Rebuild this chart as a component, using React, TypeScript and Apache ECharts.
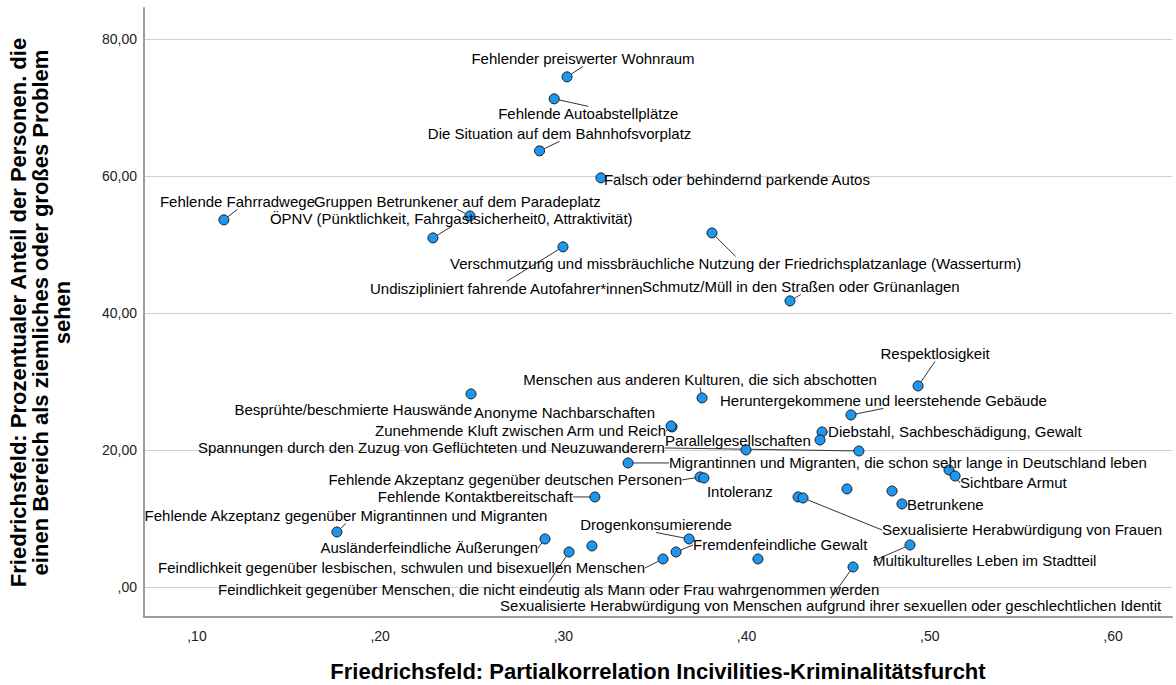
import React, { useEffect, useRef } from 'react';
import * as echarts from 'echarts';

const X_TICKS = [0.1, 0.2, 0.3, 0.4, 0.5, 0.6];
const Y_TICKS = [0, 20, 40, 60, 80];

const X_TITLE = 'Friedrichsfeld: Partialkorrelation Incivilities-Kriminalitätsfurcht';
const Y_TITLE =
  'Friedrichsfeld: Prozentualer Anteil der Personen. die\neinen Bereich als ziemliches oder großes Problem\nsehen';

const ITEM_NAMES = [
  'Fehlender preiswerter Wohnraum',
  'Fehlende Autoabstellplätze',
  'Die Situation auf dem Bahnhofsvorplatz',
  'Falsch oder behindernd parkende Autos',
  'Fehlende Fahrradwege',
  'Gruppen Betrunkener auf dem Paradeplatz',
  'ÖPNV (Pünktlichkeit, Fahrgastsicherheit0, Attraktivität)',
  'Verschmutzung und missbräuchliche Nutzung der Friedrichsplatzanlage (Wasserturm)',
  'Undiszipliniert fahrende Autofahrer*innen',
  'Schmutz/Müll in den Straßen oder Grünanlagen',
  'Besprühte/beschmierte Hauswände',
  'Menschen aus anderen Kulturen, die sich abschotten',
  'Respektlosigkeit',
  'Heruntergekommene und leerstehende Gebäude',
  'Zunehmende Kluft zwischen Arm und Reich',
  'Anonyme Nachbarschaften',
  'Diebstahl, Sachbeschädigung, Gewalt',
  '',
  'Parallelgesellschaften',
  'Spannungen durch den Zuzug von Geflüchteten und Neuzuwanderern',
  'Migrantinnen und Migranten, die schon sehr lange in Deutschland leben',
  '',
  'Sichtbare Armut',
  'Fehlende Akzeptanz gegenüber deutschen Personen',
  'Intoleranz',
  '',
  '',
  '',
  'Sexualisierte Herabwürdigung von Frauen',
  'Betrunkene',
  'Fehlende Kontaktbereitschaft',
  'Fehlende Akzeptanz gegenüber Migrantinnen und Migranten',
  'Ausländerfeindliche Äußerungen',
  'Feindlichkeit gegenüber Menschen, die nicht eindeutig als Mann oder Frau wahrgenommen werden',
  '',
  'Drogenkonsumierende',
  'Feindlichkeit gegenüber lesbischen, schwulen und bisexuellen Menschen',
  'Fremdenfeindliche Gewalt',
  '',
  'Multikulturelles Leben im Stadtteil',
  'Sexualisierte Herabwürdigung von Menschen aufgrund ihrer sexuellen oder geschlechtlichen Identit',
];

const X_VALUES = [
  0.302, 0.295, 0.287, 0.3205, 0.1147, 0.249, 0.2288, 0.3811, 0.2998, 0.4237,
  0.2496, 0.3757, 0.4936, 0.457, 0.3593, 0.3588, 0.4412, 0.4401, 0.3997, 0.4613,
  0.3353, 0.5105, 0.5138, 0.3746, 0.3767, 0.4548, 0.4794, 0.4281, 0.4308, 0.4848,
  0.3172, 0.1764, 0.29, 0.3031, 0.3156, 0.3686, 0.3544, 0.3615, 0.4062, 0.4892,
  0.4581,
];

const Y_VALUES = [
  74.45, 71.24, 63.65, 59.71, 53.58, 54.16, 50.95, 51.68, 49.64, 41.75,
  28.18, 27.59, 29.34, 25.11, 23.36, 23.5, 22.63, 21.46, 20.0, 19.85,
  18.1, 17.08, 16.2, 16.06, 15.91, 14.31, 14.01, 13.14, 12.99, 12.12,
  13.14, 8.03, 7.01, 5.11, 5.99, 7.01, 4.09, 5.11, 4.09, 6.13,
  2.92,
];

// label placement (layout only): [align, dx, dy, show leader line]
type Placement = [string, number, number, boolean] | null;
const LABEL_PLACEMENT: Placement[] = [
  ['center', 16, -18, true],
  ['center', 34, 15, true],
  ['center', 20, -17, true],
  ['left', 3, 2, true],
  ['left', -64, -18, true],
  ['left', -156, -14, true],
  ['left', -163, -19, true],
  ['left', -262, 31, true],
  ['left', -193, 42, true],
  ['left', -148, -14, true],
  ['right', 1, 16, false],
  ['center', -2, -18, true],
  ['center', 17, -32, true],
  ['left', -131, -14, true],
  ['right', -6, 4, true],
  ['left', -197, -13, false],
  ['left', 6, 0, true],
  null,
  ['left', -81, -9, false],
  ['right', -194, -3, true],
  ['left', 41, 0, true],
  null,
  ['left', 5, 7, true],
  ['right', -18, 3, true],
  ['center', 36, 14, false],
  null,
  null,
  null,
  ['left', 79, 32, true],
  ['left', 5, 1, true],
  ['right', -22, 0, true],
  ['center', 9, -16, true],
  ['right', -7, 9, true],
  ['left', -351, 38, true],
  null,
  ['center', -33, -14, true],
  ['left', -505, 9, true],
  ['left', 17, -7, true],
  null,
  ['left', -37, 16, true],
  ['left', -353, 39, true],
];

const FONT = '"Liberation Sans", Arial, sans-serif';

function fmtX(v: number) {
  return ',' + String(Math.round(v * 100)).padStart(2, '0');
}
function fmtY(v: number) {
  if (Math.abs(v) < 1e-9) return ',00';
  return v.toFixed(2).replace('.', ',');
}

export default function App() {
  const ref = useRef<HTMLDivElement>(null);

  useEffect(() => {
    if (!ref.current) return;
    const chart = echarts.init(ref.current, undefined, { renderer: 'svg' });

    const data = ITEM_NAMES.map((name, i) => {
      const p = LABEL_PLACEMENT[i];
      return {
        name,
        value: [X_VALUES[i], Y_VALUES[i]],
        label: { show: !!p },
        labelLine: { show: !!(p && p[3]) },
      };
    });

    chart.setOption({
      animation: false,
      backgroundColor: '#ffffff',
      grid: { left: 144, right: 4, top: 8, bottom: 68, containLabel: false, outerBoundsMode: 'none' },
      xAxis: {
        type: 'value',
        min: 0.0711,
        max: 0.6322,
        name: X_TITLE,
        nameLocation: 'middle',
        nameGap: 43,
        nameTextStyle: {
          fontFamily: FONT,
          fontSize: 22,
          lineHeight: 22,
          fontWeight: 'bold',
          color: '#000',
          verticalAlign: 'top',
        },
        axisLine: { show: true, onZero: false, lineStyle: { color: '#9e9e9e', width: 2 } },
        axisTick: { show: false, customValues: X_TICKS },
        axisLabel: {
          customValues: X_TICKS,
          formatter: fmtX,
          fontFamily: FONT,
          fontSize: 14,
          color: '#222',
          margin: 12,
        },
        splitLine: { show: false },
      },
      yAxis: {
        type: 'value',
        min: -4.38,
        max: 84.5,
        name: Y_TITLE,
        nameLocation: 'middle',
        nameRotate: 90,
        nameGap: 71,
        nameTextStyle: {
          fontFamily: FONT,
          fontSize: 22,
          fontWeight: 'bold',
          color: '#000',
          lineHeight: 22,
          align: 'center',
        },
        axisLine: { show: true, onZero: false, lineStyle: { color: '#9e9e9e', width: 2 } },
        axisTick: { show: false, customValues: Y_TICKS },
        axisLabel: {
          customValues: Y_TICKS,
          formatter: fmtY,
          fontFamily: FONT,
          fontSize: 14,
          color: '#222',
          margin: 7,
        },
        splitLine: { show: true, lineStyle: { color: '#cfcfcf', width: 1 } },
      },
      series: [
        {
          type: 'scatter',
          data,
          symbol: 'circle',
          symbolSize: 10,
          itemStyle: { color: '#1e96ee', borderColor: '#1a1a1a', borderWidth: 1, opacity: 1 },
          label: {
            show: true,
            position: 'inside',
            formatter: '{b}',
            fontFamily: FONT,
            fontSize: 15,
            color: '#000',
          },
          labelLine: { show: true, lineStyle: { color: '#333', width: 1 } },
          labelLayout: (p: any) => {
            const lp = LABEL_PLACEMENT[p.dataIndex];
            if (!lp) return {};
            return { dx: lp[1], dy: lp[2], align: lp[0], verticalAlign: 'middle' };
          },
          emphasis: { disabled: true },
        },
      ],
    });

    return () => chart.dispose();
  }, []);

  return (
    <div
      ref={ref}
      style={{ position: 'fixed', left: 0, top: 0, width: 1176, height: 685, background: '#fff' }}
    />
  );
}
